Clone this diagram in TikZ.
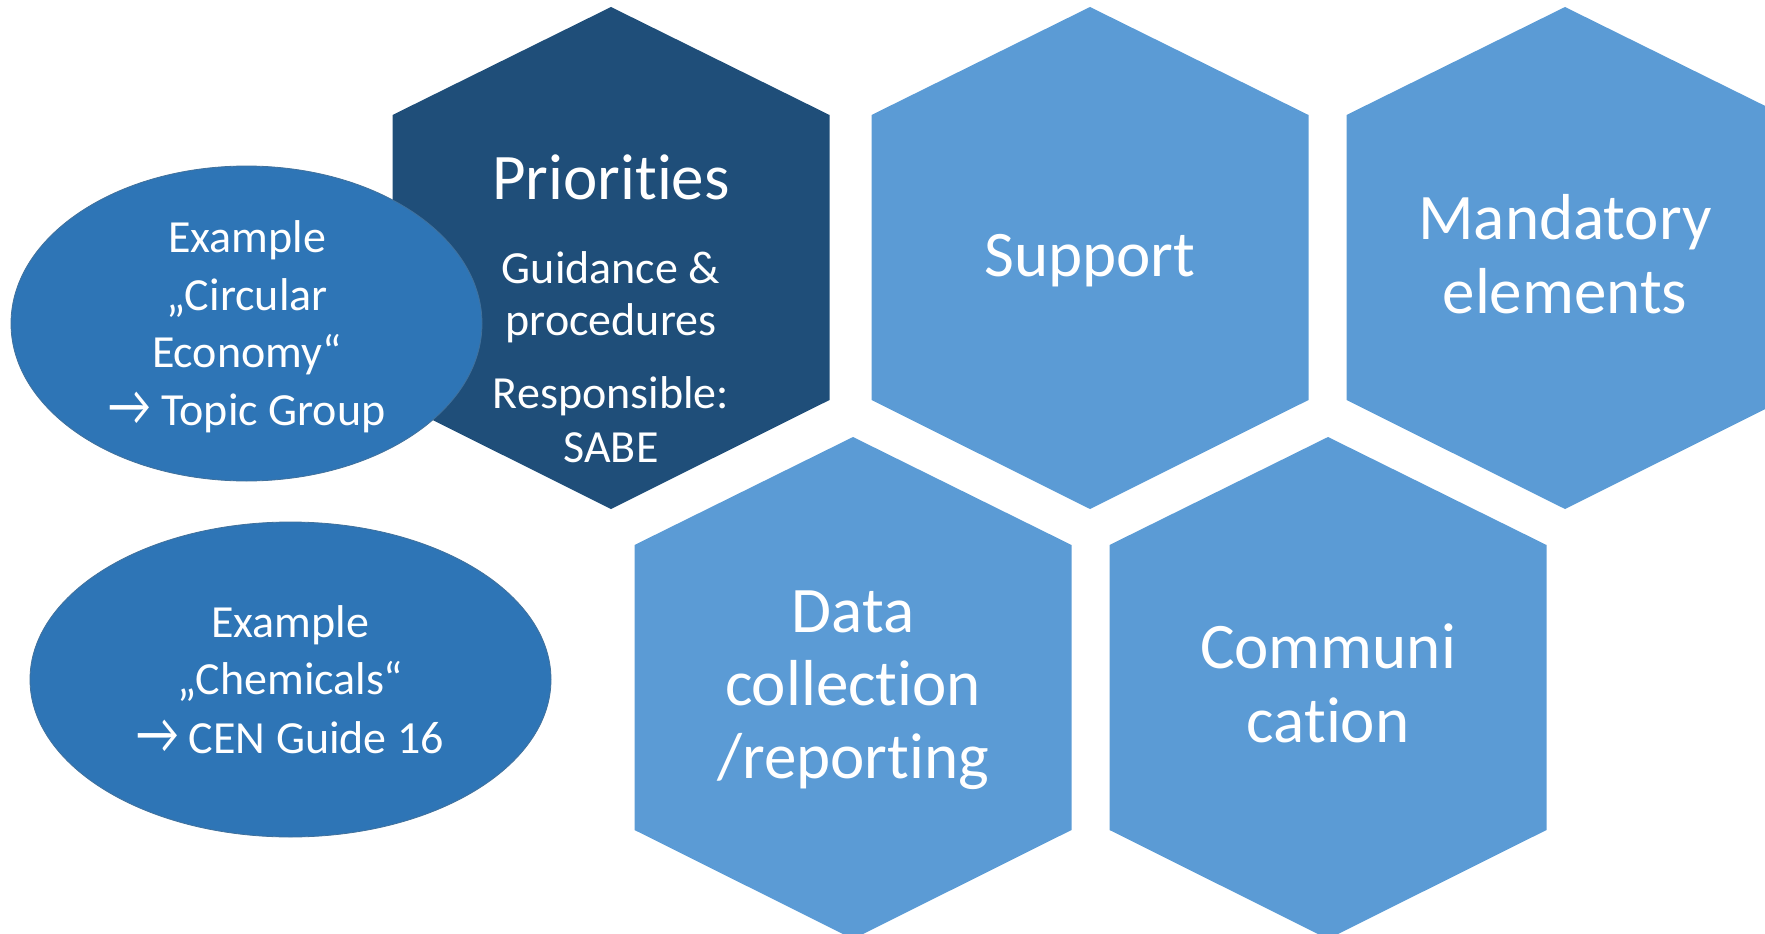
\documentclass[tikz,border=0pt]{standalone}
\usepackage{fontspec}
\setmainfont{Carlito}[Ligatures={NoCommon}]
\definecolor{hexdark}{HTML}{1F4E79}
\definecolor{hexlight}{HTML}{5B9BD5}
\definecolor{ellfill}{HTML}{2E75B6}
\definecolor{elledge}{HTML}{41719C}
\newcommand{\hexagonat}[3]{%
  \fill[#3] ({#1-218.5},{#2+108}) -- (#1,#2) -- ({#1+218.5},{#2+108}) -- ({#1+218.5},{#2+393}) -- (#1,{#2+502}) -- ({#1-218.5},{#2+393}) -- cycle;}
\newcommand{\bigarrow}{\scalebox{1.02}[1.27]{→}}
\begin{document}
\begin{tikzpicture}[x=1pt,y=-1pt,
  every node/.style={inner sep=0pt, outer sep=0pt, text=white, anchor=base},
  big/.style={font=\fontsize{65}{73}\selectfont},
  small/.style={font=\fontsize{46}{52}\selectfont},
  ellipsebox/.style={fill=ellfill, draw=elledge, line width=0.8pt}]
\useasboundingbox (0,0) rectangle (1765,934);
\clip (0,0) rectangle (1765,934);
% hexagons
\hexagonat{611}{7}{hexdark}
\hexagonat{1090}{7}{hexlight}
\hexagonat{1565}{7}{hexlight}
\hexagonat{853}{437}{hexlight}
\hexagonat{1328}{437}{hexlight}
% ellipses
\path[ellipsebox] (246.5,323.5) ellipse [x radius=235.5, y radius=157.5];
\path[ellipsebox] (290.5,679.5) ellipse [x radius=260.5, y radius=157.5];
% Priorities
\node[big] (prio) at (611,199) {Priorities};
\node[small] (guid1) at (611,283) {Guidance \&};
\node[small] (guid2) at (611,335) {procedures};
\node[small] (resp1) at (611,408) {Responsible:};
\node[small] (resp2) at (611,462) {SABE};
% Support
\node[big] (supp) at (1090,276) {Support};
% Mandatory
\node[big] (mand1) at (1565,239) {Mandatory};
\node[big] (mand2) at (1565,313) {elements};
% Data collection
\node[big] (data1) at (853,632) {Data};
\node[big] (data2) at (853,705) {collection};
\node[big] (data3) at (853,778) {/reporting};
% Communication
\node[big] (comm1) at (1328,668) {Communi};
\node[big] (comm2) at (1328,742) {cation};
% Ellipse 1
\node[small] (ex1a) at (247,252) {Example};
\node[small] (ex1b) at (247,310) {„Circular};
\node[small] (ex1c) at (247,367) {Economy“};
\node[small] (ex1d) at (247,425) {\bigarrow{} Topic Group};
% Ellipse 2
\node[small] (ex2a) at (290,637) {Example};
\node[small] (ex2b) at (290,694) {„Chemicals“};
\node[small] (ex2c) at (290,753) {\bigarrow{} CEN Guide 16};
\end{tikzpicture}
\end{document}
